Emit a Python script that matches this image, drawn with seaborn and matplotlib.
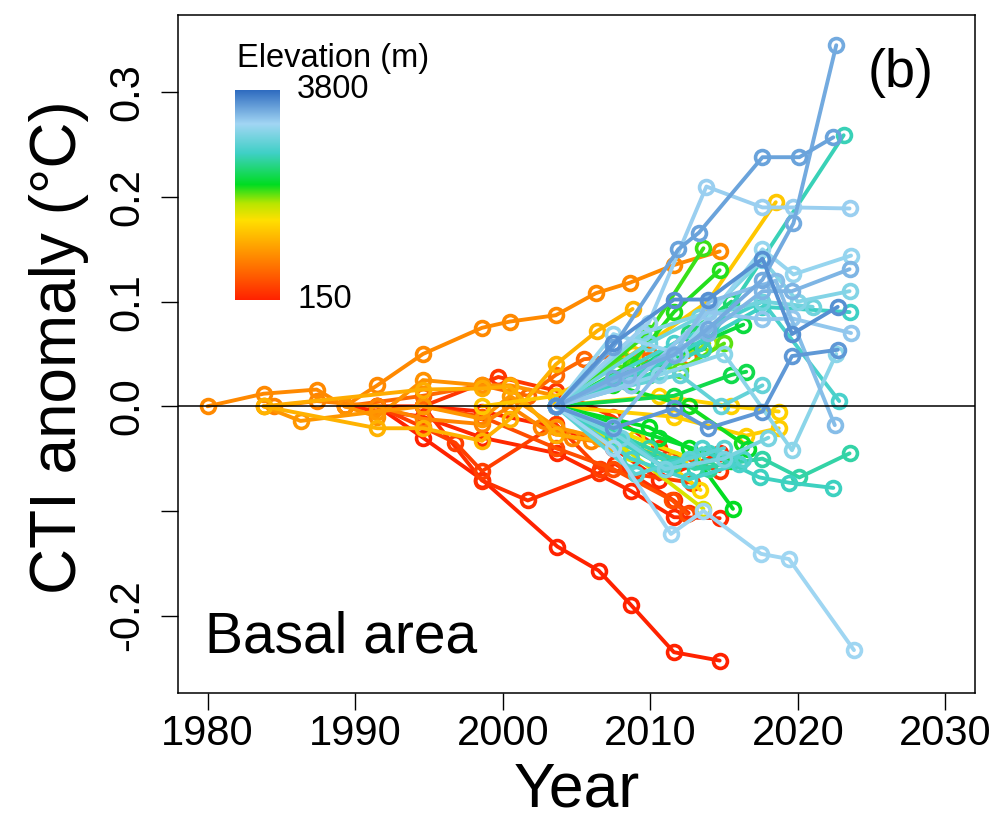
import matplotlib
matplotlib.use("Agg")
import matplotlib.pyplot as plt
import numpy as np
import pandas as pd
import seaborn as sns
from matplotlib.colors import LinearSegmentedColormap

# plot elevation (m), survey years and CTI anomaly (degC) per plot
elevation = [
    900, 1000, 1200, 1150, 850, 950, 650, 450,
    150, 250, 200, 300, 350, 180,
    1350, 1450, 1400, 1420, 1700, 1850,
    2100, 2050, 2150, 2200, 2250, 2300, 2120,
    2650, 2700, 2750, 2600, 2680, 2800, 2850, 2900,
    3200, 3250, 3150, 3300, 3100, 3350, 3000, 3050,
    3500, 3450, 3600, 3550, 3400,
    2400, 2550, 2950, 2000, 1600, 2750,
]

years = [
    [1980, 1983.8, 1987.4, 1989.3, 1991.5, 1994.6, 1998.6, 2000.5, 2003.6, 2006.3, 2008.6, 2011.6, 2014.7],
    [1983.8, 1986.3, 1991.5, 1994.6, 1998.6, 2000.5, 2003.6, 2006.5],
    [1983.8, 1991.5, 1994.6, 1998.6, 2000.5, 2003.6, 2006.4, 2008.8],
    [1983.8, 1994.6, 1998.6, 2000.5, 2003.6, 2007.5, 2011.6],
    [1984.5, 1987.4, 1991.5, 1994.6, 1998.6, 2000.5, 2002.6, 2004.7, 2006.0, 2008.0],
    [1989.3, 1991.5, 1994.6, 1998.6, 2000.5, 2003.6],
    [1989.3, 1994.6, 1998.6, 2001.7, 2003.6, 2005.5, 2009.9, 2012.6],
    [1994.6, 1998.6, 2003.6, 2007.5, 2011.5, 2012.5],
    [1991.5, 1994.6, 1998.6, 2003.7, 2006.5, 2008.7, 2011.6, 2014.7],
    [1994.6, 1998.6, 2001.7, 2006.5, 2007.6, 2011.6, 2012.6],
    [1989.3, 1994.6, 1998.6, 2003.7, 2008.7, 2011.6, 2014.7],
    [1991.5, 1994.6, 1999.7, 2003.6, 2007.5, 2010.6, 2014.7],
    [1991.5, 1994.6, 1996.8, 1998.6, 2003.6, 2006.6, 2012.8],
    [1994.6, 1998.6, 2003.6, 2007.5, 2010.6, 2014.7],
    [1998.6, 2003.6, 2008.8, 2013.9, 2018.5],
    [2003.6, 2009.9, 2013.4],
    [2003.6, 2011.6, 2016.5, 2018.7],
    [2003.6, 2010.6, 2015.5, 2018.7],
    [2003.6, 2008.7, 2013.6],
    [2003.6, 2009.9, 2014.0],
    [2003.6, 2008.7, 2011.6, 2014.7],
    [2003.6, 2009.9, 2013.6],
    [2003.6, 2009.9, 2012.6, 2015.6],
    [2003.6, 2010.6, 2015.5, 2016.6],
    [2003.6, 2009.9, 2013.3, 2016.3],
    [2003.6, 2011.6, 2015.5, 2016.5],
    [2003.6, 2007.5, 2012.6, 2016.2],
    [2003.6, 2009.9, 2013.6, 2023.1],
    [2003.6, 2010.6, 2017.6, 2023.5],
    [2003.6, 2011.6, 2017.6, 2022.8],
    [2003.6, 2009.9, 2013.0, 2017.6, 2020.1, 2023.5],
    [2003.6, 2010.6, 2014.0, 2017.4, 2019.4, 2022.4],
    [2003.6, 2007.5, 2011.0, 2013.5, 2016.3],
    [2003.6, 2009.0, 2012.6, 2015.0],
    [2003.6, 2008.7, 2012.0, 2014.8, 2017.6],
    [2003.6, 2007.5, 2011.4, 2013.6, 2017.5, 2019.4, 2023.8],
    [2003.6, 2009.9, 2013.8, 2017.6, 2019.7, 2023.5],
    [2003.6, 2007.5, 2012.0, 2017.6, 2019.7, 2023.6],
    [2003.6, 2008.7, 2013.9, 2017.6, 2019.6, 2023.6],
    [2003.6, 2010.6, 2015.0, 2019.6, 2022.6],
    [2003.6, 2007.5, 2011.6, 2014.0, 2018.5, 2022.5],
    [2003.6, 2008.0, 2011.0, 2015.0, 2018.0],
    [2003.6, 2009.5, 2014.0, 2017.6, 2020.0, 2023.5],
    [2003.6, 2007.5, 2011.9, 2013.3, 2017.6, 2020.1, 2022.4],
    [2003.6, 2007.5, 2011.6, 2013.9, 2017.6, 2019.7, 2022.6],
    [2003.6, 2007.5, 2011.6, 2013.9, 2017.6, 2019.6, 2022.7],
    [2003.6, 2007.5, 2011.6, 2013.9, 2017.6, 2019.6, 2022.7],
    [2003.6, 2008.5, 2013.9, 2017.6, 2019.6, 2023.5],
    [2003.6, 2008.7, 2012.6, 2015.5],
    [2003.6, 2007.5, 2011.6, 2014.0],
    [2003.6, 2009.9, 2013.3, 2017.6, 2021.0],
    [2003.6, 2008.0, 2012.0, 2015.0],
    [2003.6, 2009.0, 2012.8],
    [2003.6, 2008.7, 2012.6, 2016.0],
]

cti = [
    [0, 0.012, 0.016, 0.0, 0.02, 0.05, 0.075, 0.081, 0.087, 0.108, 0.118, 0.135, 0.148],
    [0, -0.014, -0.005, 0.0, -0.012, 0.01, -0.02, -0.03],
    [0, -0.021, -0.021, -0.033, -0.012, 0.04, 0.072, 0.093],
    [0, 0.016, 0.017, 0.019, -0.027, -0.035, -0.05],
    [0, 0.005, 0.0, -0.012, -0.017, 0.0, -0.02, -0.03, -0.033, -0.035],
    [0, -0.01, 0.025, 0.02, 0.02, 0.01],
    [0, 0.01, 0.02, 0.01, 0.03, 0.045, 0.05, 0.047],
    [0, -0.01, -0.04, -0.06, -0.09, -0.103],
    [0, -0.03, -0.07, -0.134, -0.157, -0.19, -0.235, -0.243],
    [0, -0.071, -0.09, -0.064, -0.055, -0.09, -0.102],
    [0, -0.01, -0.03, -0.045, -0.081, -0.106, -0.107],
    [0, 0.0, 0.028, 0.015, -0.01, -0.04, -0.062],
    [0, -0.02, -0.035, -0.062, -0.017, -0.06, -0.073],
    [0, -0.005, -0.02, -0.04, -0.07, -0.045],
    [0, 0.01, 0.05, 0.1, 0.195],
    [0, -0.04, -0.08],
    [0, -0.01, -0.028, -0.021],
    [0, 0.01, 0.0, -0.005],
    [0, -0.045, -0.098],
    [0, 0.03, 0.06],
    [0, 0.04, 0.09, 0.13],
    [0, 0.07, 0.151],
    [0, -0.02, -0.04, -0.098],
    [0, -0.03, -0.052, -0.041],
    [0, 0.03, 0.06, 0.078],
    [0, 0.01, 0.03, 0.033],
    [0, 0.02, 0.0, -0.035],
    [0, 0.03, 0.055, 0.259],
    [0, 0.04, 0.095, 0.09],
    [0, 0.06, 0.1, 0.005],
    [0, -0.04, -0.06, -0.05, -0.068, -0.045],
    [0, -0.055, -0.045, -0.068, -0.073, -0.078],
    [0, -0.02, -0.06, -0.04, -0.05],
    [0, -0.065, -0.05, -0.04],
    [0, 0.02, 0.03, 0.0, 0.02],
    [0, -0.04, -0.122, -0.1, -0.141, -0.146, -0.233],
    [0, 0.08, 0.21, 0.19, 0.19, 0.189],
    [0, 0.069, 0.05, 0.15, 0.126, 0.144],
    [0, 0.02, 0.09, 0.083, 0.084, 0.07],
    [0, 0.03, 0.05, -0.042, 0.05],
    [0, -0.02, 0.05, 0.1, 0.12, -0.018],
    [0, -0.03, -0.06, -0.05, -0.03],
    [0, 0.07, 0.09, 0.14, 0.10, 0.11],
    [0, 0.057, 0.150, 0.166, 0.238, 0.238, 0.257],
    [0, 0.027, 0.049, 0.074, 0.121, 0.175, 0.345],
    [0, 0.06, 0.102, 0.102, 0.141, 0.069, 0.095],
    [0, -0.021, -0.002, -0.021, -0.005, 0.048, 0.054],
    [0, 0.03, 0.07, 0.11, 0.11, 0.131],
    [0, 0.03, 0.07, 0.1],
    [0, -0.03, -0.055, -0.06],
    [0, 0.06, 0.085, 0.1, 0.095],
    [0, 0.045, 0.035, 0.06],
    [0, -0.03, -0.05],
    [0, -0.05, -0.07, -0.055],
]

x_ticks = [1980, 1990, 2000, 2010, 2020, 2030]
y_ticks = [-0.2, -0.1, 0.0, 0.1, 0.2, 0.3]
y_tick_labels = ["-0.2", "", "0.0", "0.1", "0.2", "0.3"]

rows = []
for site, (elev, ys, vals) in enumerate(zip(elevation, years, cti)):
    for yr, v in zip(ys, vals):
        rows.append({"site": site, "elev": elev, "year": yr, "cti": v})
df = pd.DataFrame(rows)

elev_cmap = LinearSegmentedColormap.from_list(
    "elev",
    [(0.0, "#ff2200"), (0.12, "#ff6000"), (0.25, "#ffa000"), (0.38, "#ffe000"),
     (0.46, "#b8e600"), (0.55, "#00dd22"), (0.70, "#3fd0c6"), (0.84, "#a2d6f4"),
     (1.0, "#2f6cc0")],
)

sns.set_theme(style="white")
plt.rcParams["font.family"] = ["Liberation Sans", "DejaVu Sans"]
plt.rcParams["text.color"] = "black"
plt.rcParams["axes.labelcolor"] = "black"

fig = plt.figure(figsize=(10, 8.27), dpi=100)
ax = fig.add_axes([0.178, 0.162, 0.797, 0.820])

sns.lineplot(
    data=df, x="year", y="cti", hue="elev", units="site", estimator=None,
    sort=False, palette=elev_cmap, hue_norm=(150, 3800), legend=False, ax=ax,
    lw=2.8, marker="o", markersize=10,
)
for ln in ax.lines:
    ln.set_markeredgecolor(ln.get_color())
    ln.set_markerfacecolor("none")
    ln.set_markeredgewidth(2.6)

ax.axhline(0, color="black", lw=1.1, zorder=10)

ax.set_xlim(1978, 2032)
ax.set_ylim(-0.274, 0.374)
ax.set_xticks(x_ticks)
ax.set_xticklabels([str(t) for t in x_ticks], fontsize=30)
ax.set_yticks(y_ticks)
ax.set_yticklabels(y_tick_labels, fontsize=30, rotation=90, va="center")
ax.tick_params(axis="both", bottom=True, left=True, direction="out",
               length=12, width=1, color="black", labelcolor="black")
ax.tick_params(axis="x", pad=3)
ax.tick_params(axis="y", pad=10)
for sp in ax.spines.values():
    sp.set_color("black")
    sp.set_linewidth(1.1)

ax.set_xlabel("Year", fontsize=45, va="baseline")
ax.xaxis.set_label_coords(0.5, -0.168)
ax.set_ylabel("CTI anomaly (°C)", fontsize=46, va="baseline")
ax.yaxis.set_label_coords(-0.128, 0.51)

ax.text(0.034, 0.06, "Basal area", transform=ax.transAxes, fontsize=41,
        ha="left", va="baseline", color="black")
ax.text(0.907, 0.914, "(b)", transform=ax.transAxes, fontsize=39,
        ha="center", va="center", color="black")

# elevation colour key
cax = fig.add_axes([0.235, 1 - 300 / 827, 0.045, 210 / 827])
cax.imshow(np.linspace(0, 1, 256)[:, None], cmap=elev_cmap, aspect="auto",
           origin="lower")
cax.set_axis_off()
fig.text(0.237, 1 - 67 / 827, "Elevation (m)", fontsize=23.5, va="baseline")
fig.text(0.297, 1 - 98 / 827, "3800", fontsize=23.5, va="baseline")
fig.text(0.297, 1 - 308 / 827, "150", fontsize=23.5, va="baseline")

fig.savefig("out.png", dpi=100, facecolor="white")
